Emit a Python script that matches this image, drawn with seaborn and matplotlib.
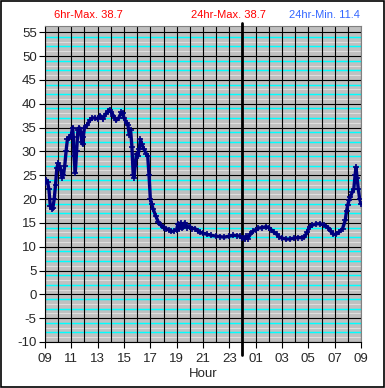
import matplotlib
matplotlib.use("Agg")
import matplotlib.pyplot as plt
import seaborn as sns
import numpy as np
import pandas as pd

# ---- data (hours since midnight of day 1; >24 is next day) ----
hours = [9.00, 9.10, 9.20, 9.30, 9.40, 9.50, 9.60, 9.70, 9.80, 9.90,
         10.00, 10.10, 10.20, 10.30, 10.40, 10.50, 10.60, 10.70, 10.80, 10.90,
         11.00, 11.10, 11.15, 11.20, 11.30, 11.40, 11.50, 11.60, 11.70, 11.80,
         11.85, 11.90, 12.00, 12.20, 12.40, 12.60, 12.80, 13.00, 13.20, 13.40,
         13.60, 13.80, 13.90, 14.00, 14.20, 14.40, 14.60, 14.80, 14.90, 15.00,
         15.20, 15.30, 15.40, 15.50, 15.60, 15.70, 15.75, 15.85, 15.95, 16.05,
         16.15, 16.25, 16.35, 16.50, 16.70, 16.80, 16.90, 17.00, 17.10, 17.20,
         17.40, 17.60, 17.80, 18.00, 18.20, 18.40, 18.60, 18.80, 19.00, 19.10,
         19.20, 19.30, 19.40, 19.50, 19.60, 19.70, 19.80, 20.00, 20.20, 20.40,
         20.60, 20.80, 21.00, 21.30, 21.60, 22.00, 22.30, 22.60, 23.00, 23.30,
         23.60, 23.80, 24.00, 24.20, 24.30, 24.40, 24.60, 24.80, 25.00, 25.20,
         25.50, 25.80, 26.00, 26.20, 26.40, 26.60, 26.80, 27.00, 27.30, 27.60,
         27.90, 28.20, 28.50, 28.70, 28.90, 29.10, 29.30, 29.60, 29.90, 30.20,
         30.50, 30.70, 30.90, 31.10, 31.30, 31.60, 31.80, 31.90, 32.00, 32.10,
         32.20, 32.35, 32.45, 32.55, 32.62, 32.70, 32.80, 32.90, 33.00]
temps = [23.3, 24.0, 23.5, 22.0, 18.5, 18.0, 18.2, 20.0, 23.0, 26.5,
         27.5, 27.0, 26.0, 24.5, 25.0, 27.0, 30.0, 32.5, 32.8, 33.0,
         33.5, 35.0, 33.0, 29.0, 25.5, 30.0, 34.5, 35.0, 34.0, 32.0,
         31.5, 33.0, 35.0, 35.5, 36.5, 37.0, 37.0, 36.8, 37.5, 36.8,
         37.8, 38.5, 38.7, 38.3, 37.5, 36.5, 37.0, 38.2, 38.0, 37.0,
         36.0, 35.5, 33.5, 34.5, 31.0, 25.0, 24.5, 27.0, 29.5, 29.0,
         30.5, 32.5, 31.5, 30.5, 29.5, 29.0, 25.0, 20.0, 19.0, 18.0,
         16.5, 15.2, 14.5, 14.0, 13.8, 13.5, 13.2, 13.3, 13.6, 14.8,
         13.8, 15.0, 13.9, 14.2, 15.0, 14.5, 14.0, 14.2, 13.8, 13.8,
         13.3, 13.0, 12.8, 12.6, 12.4, 12.2, 12.1, 12.0, 12.2, 12.4,
         12.3, 12.2, 11.8, 11.6, 12.2, 11.7, 12.6, 13.2, 13.6, 13.9,
         14.0, 14.2, 14.0, 13.5, 13.0, 12.6, 12.0, 11.8, 11.6, 11.6,
         11.8, 11.9, 11.9, 12.0, 13.0, 14.2, 14.5, 14.8, 14.8, 14.6,
         14.0, 13.2, 12.6, 12.6, 13.0, 13.8, 15.5, 17.5, 18.8, 19.8,
         20.5, 21.5, 22.0, 25.0, 26.7, 24.5, 22.0, 20.0, 19.0]

xtick_pos = [9, 11, 13, 15, 17, 19, 21, 23, 25, 27, 29, 31, 33]
xtick_labels = ["09", "11", "13", "15", "17", "19", "21", "23",
                "01", "03", "05", "07", "09"]
ytick_pos = [-10, -5, 0, 5, 10, 15, 20, 25, 30, 35, 40, 45, 50, 55]

title_texts = ["6hr-Max. 38.7", "24hr-Max. 38.7", "24hr-Min. 11.4"]

df = pd.DataFrame({"Hour": hours, "Temp": temps})

sns.set_style("white")
plt.rcParams["font.family"] = ["Liberation Sans", "DejaVu Sans"]

fig = plt.figure(figsize=(3.85, 3.88), dpi=100)
ax = fig.add_axes([45 / 385, (388 - 342) / 388, (361 - 45) / 385, (342 - 26) / 388])
ax.set_facecolor("#c0c0c0")
ax.set_xlim(9, 33)
ax.set_ylim(-10, 56.3)

# minor horizontal lines
for v in range(-10, 56):
    m = v % 5
    if m == 0:
        continue
    if m in (2, 4):
        ax.axhline(v, color="#00ffff", lw=1.05, zorder=1)
    else:
        ax.axhline(v, color="#dedede", lw=0.8, zorder=1)
# major horizontal lines
for v in ytick_pos:
    ax.axhline(v, color="black", lw=0.8, zorder=2)
# vertical hourly lines
for h in range(9, 34):
    ax.axvline(h, color="black", lw=0.8, zorder=2)

# midnight line
ax.axvline(24, ymin=-0.04, ymax=1.01, color="black", lw=2.0, zorder=3, clip_on=False)

sns.lineplot(data=df, x="Hour", y="Temp", ax=ax, color="#000080", lw=2.4,
             marker="+", markersize=5, markeredgewidth=1.2,
             markeredgecolor="#000080", markerfacecolor="#000080", zorder=4)

ax.set_xticks(xtick_pos)
ax.set_xticklabels(xtick_labels)
ax.set_yticks(ytick_pos)
ax.set_yticklabels([str(v) for v in ytick_pos])
ax.tick_params(axis="both", direction="out", length=4, width=0.8, color="black",
               labelsize=9.5, pad=2, bottom=True, left=True)
ax.tick_params(axis="x", pad=4)
ax.set_xlabel("Hour", fontsize=9.5, labelpad=2)
ax.set_ylabel("")

for s in ["left", "bottom"]:
    ax.spines[s].set_color("black")
    ax.spines[s].set_linewidth(0.8)
for s in ["top", "right"]:
    ax.spines[s].set_color("#808080")
    ax.spines[s].set_linewidth(0.8)

fig.text(88 / 385, 1 - 15.5 / 388, title_texts[0], color="#ff0000",
         ha="center", va="center", fontsize=8)
fig.text(228 / 385, 1 - 15.5 / 388, title_texts[1], color="#ff0000",
         ha="center", va="center", fontsize=8)
fig.text(324 / 385, 1 - 15.5 / 388, title_texts[2], color="#3366ff",
         ha="center", va="center", fontsize=8)

# figure border
fig.patches.append(plt.Rectangle((0.0013, 0.0013), 0.9974, 0.9974, transform=fig.transFigure,
                                 fill=False, edgecolor="black", lw=1.2))

fig.savefig("out.png", dpi=100)
